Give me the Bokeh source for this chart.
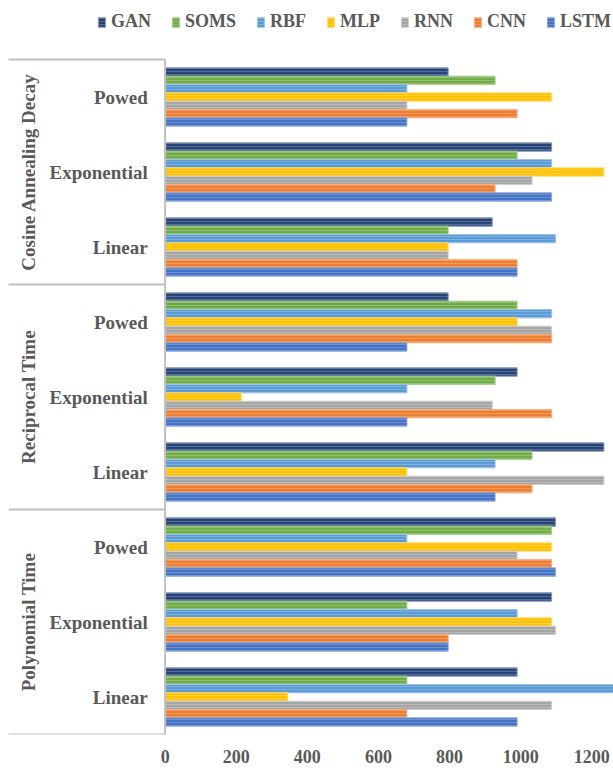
from math import pi

from bokeh.plotting import figure
from bokeh.models import (ColumnDataSource, Range1d, FixedTicker,
                          Legend, LegendItem)
from bokeh.transform import dodge
from bokeh.core.properties import value
from bokeh.embed import file_html
from bokeh.resources import INLINE

# Learning-rate schedule families and variants (listed bottom to top)
groups = ["Polynomial Time", "Reciprocal Time", "Cosine Annealing Decay"]
schedules = ["Linear", "Exponential", "Powed"]

models = ["GAN", "SOMS", "RBF", "MLP", "RNN", "CNN", "LSTM"]
colors = ["#264478", "#70AD47", "#5B9BD5", "#FFC000", "#A5A5A5", "#ED7D31", "#4472C4"]
edges = ["#8597B8", "#A9CF90", "#9DC3E6", "#FFDC73", "#CFCFCF", "#F4B183", "#8FAADC"]

# Values per model: Polynomial (Linear, Exponential, Powed), Reciprocal (...), Cosine (...)
gan = [990, 1087, 1098, 1234, 990, 796, 920, 1087, 796]
soms = [680, 680, 1087, 1032, 928, 990, 796, 990, 928]
rbf = [1300, 990, 680, 928, 680, 1087, 1098, 1087, 680]
mlp = [345, 1087, 1087, 680, 214, 990, 796, 1234, 1087]
rnn = [1087, 1098, 990, 1234, 920, 1087, 796, 1032, 680]
cnn = [680, 796, 1087, 1032, 1087, 1087, 990, 928, 990]
lstm = [990, 796, 1098, 928, 680, 680, 990, 1087, 680]
series = [gan, soms, rbf, mlp, rnn, cnn, lstm]

x_ticks = [0, 200, 400, 600, 800, 1000, 1200]

FONT = value("Liberation Serif")
TEXT_COLOR = "#595959"
RULE_COLOR = "#BFBFBF"

# One slot per (family, variant); slot k sits at y = k
n_sched = len(schedules)
slots = [(g, s) for g in groups for s in schedules]
pos = list(range(len(slots)))

data = {"pos": pos}
for name, vals in zip(models, series):
    data[name] = vals
source = ColumnDataSource(data)

# Extra room above the top slot holds the legend row
p = figure(width=613, height=768, x_range=Range1d(-463, 1261),
           y_range=Range1d(-0.5, len(slots) - 0.5 + 0.787),
           output_backend="svg", toolbar_location=None,
           min_border_left=0, min_border_right=0,
           min_border_top=0, min_border_bottom=34)
p.outline_line_color = None
p.grid.visible = False
p.yaxis.visible = False

bar_h = 1.0 / 9.0
items = []
for i, (name, col, edge) in enumerate(zip(models, colors, edges)):
    off = (3 - i) * bar_h
    r = p.hbar(y=dodge("pos", off), right=name, left=0,
               height=bar_h, source=source,
               fill_color=col, line_color=edge, line_width=1,
               hatch_pattern="horizontal_line", hatch_color="white",
               hatch_alpha=0.22, hatch_scale=3, hatch_weight=1)
    items.append(LegendItem(label=name, renderers=[r]))

# Category axis: vertical rule at zero plus separators between families
bounds = [gi * n_sched - 0.5 for gi in range(len(groups) + 1)]
p.segment(x0=0, x1=0, y0=bounds[0], y1=bounds[-1],
          line_color=RULE_COLOR, line_width=2)
p.segment(x0=-440, x1=0, y0=bounds, y1=bounds,
          line_color=RULE_COLOR, line_width=2)

# Variant labels and rotated family labels
p.text(x=-49, y=pos, text=[s for _, s in slots],
       text_align="right", text_baseline="middle", text_font=FONT,
       text_font_style="bold", text_font_size="19px", text_color=TEXT_COLOR)
group_mid = [gi * n_sched + (n_sched - 1) / 2 for gi in range(len(groups))]
p.text(x=-384, y=group_mid, text=groups, angle=pi / 2,
       text_align="center", text_baseline="middle", text_font=FONT,
       text_font_style="bold", text_font_size="19px", text_color=TEXT_COLOR)

# Value axis
p.xaxis.ticker = FixedTicker(ticks=x_ticks)
p.xaxis.axis_line_color = None
p.xaxis.major_tick_line_color = None
p.xaxis.major_tick_out = 0
p.xaxis.major_tick_in = 0
p.xaxis.minor_tick_line_color = None
p.xaxis.major_label_standoff = 15
p.xaxis.major_label_text_font = "Liberation Serif"
p.xaxis.major_label_text_font_style = "bold"
p.xaxis.major_label_text_font_size = "18px"
p.xaxis.major_label_text_color = TEXT_COLOR

# Legend row (bottom-left corner in frame pixels)
legend = Legend(items=items, orientation="horizontal", location=(97, 702),
                glyph_width=9, glyph_height=12, label_standoff=5, spacing=20,
                padding=0, margin=0, border_line_color=None,
                background_fill_alpha=0,
                label_text_font="Liberation Serif", label_text_font_style="bold",
                label_text_font_size="18px", label_text_color=TEXT_COLOR)
p.add_layout(legend)

open("out.html", "w").write(file_html(p, INLINE))
